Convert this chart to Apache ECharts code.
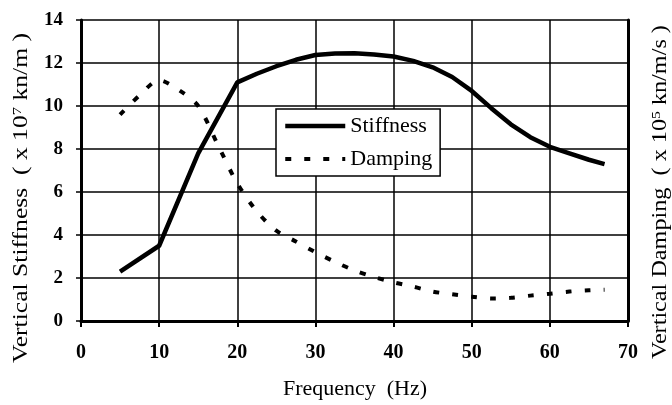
<!DOCTYPE html>
<html>
<head>
<meta charset="utf-8">
<script src="https://cdn.jsdelivr.net/npm/echarts@6/dist/echarts.min.js"></script>
<style>
html,body{margin:0;padding:0;background:#fff;}
#chart{width:672px;height:405px;}
</style>
</head>
<body>
<div id="chart"></div>
<script>
// Frequency (Hz) values and series
var stiffFreq   = [5, 10, 15, 20, 22.5, 25, 27.5, 30, 32.5, 35, 37.5, 40, 42.5, 45, 47.5, 50, 52.5, 55, 57.5, 60, 62.5, 65, 67];
var stiffValues = [2.3, 3.5, 7.8, 11.1, 11.5, 11.85, 12.15, 12.37, 12.44, 12.45, 12.4, 12.3, 12.1, 11.8, 11.35, 10.7, 9.9, 9.15, 8.55, 8.1, 7.8, 7.5, 7.3];
var dampFreq    = [5, 7.5, 10, 12.5, 15, 17.5, 20, 22.5, 25, 27.5, 30, 32.5, 35, 37.5, 40, 42.5, 45, 47.5, 50, 52.5, 55, 57.5, 60, 62.5, 65, 67];
var dampValues  = [9.6, 10.5, 11.2, 10.75, 10.0, 8.2, 6.4, 5.1, 4.2, 3.7, 3.2, 2.75, 2.35, 2.05, 1.8, 1.6, 1.37, 1.24, 1.13, 1.05, 1.08, 1.18, 1.27, 1.37, 1.43, 1.45];
var xTicks = [0, 10, 20, 30, 40, 50, 60, 70];
var yTicks = [0, 2, 4, 6, 8, 10, 12, 14];

function pairs(xs, ys) { return xs.map(function (x, i) { return [x, ys[i]]; }); }

var serif = 'Liberation Serif';
var supRich = {s: {fontFamily: serif, fontSize: 13, fill: '#000', padding: [0, 0, 9, 0]}};
var chart = echarts.init(document.getElementById('chart'), null, {renderer: 'canvas'});
chart.setOption({
  backgroundColor: '#fff',
  animation: false,
  grid: {left: 81, right: 44, top: 20, bottom: 84, containLabel: false},
  xAxis: {
    type: 'value', min: xTicks[0], max: xTicks[xTicks.length - 1], interval: 10,
    axisLine: {show: true, onZero: false, lineStyle: {color: '#000', width: 3}},
    axisTick: {show: true, length: 6, lineStyle: {color: '#000', width: 2}},
    axisLabel: {fontFamily: serif, fontSize: 20, fontWeight: 'bold', color: '#000', margin: 22},
    splitLine: {show: true, lineStyle: {color: '#000', width: 1.5}}
  },
  yAxis: [{
    type: 'value', min: yTicks[0], max: yTicks[yTicks.length - 1], interval: 2,
    axisLine: {show: true, lineStyle: {color: '#000', width: 3}},
    axisTick: {show: true, length: 5, lineStyle: {color: '#000', width: 1.5}},
    axisLabel: {fontFamily: serif, fontSize: 19, fontWeight: 'bold', color: '#000', margin: 18},
    splitLine: {show: true, lineStyle: {color: '#000', width: 1.5}}
  }, {
    type: 'value', min: yTicks[0], max: yTicks[yTicks.length - 1], interval: 2, position: 'right',
    axisLine: {show: true, lineStyle: {color: '#000', width: 3}},
    axisTick: {show: false},
    axisLabel: {show: false},
    splitLine: {show: false}
  }],
  legend: {
    orient: 'vertical', left: 276, top: 109,
    padding: [6, 8, 6, 7], itemGap: 11, itemWidth: 60, itemHeight: 21,
    backgroundColor: '#fff', borderColor: '#000', borderWidth: 1.5, borderRadius: 0,
    itemStyle: {opacity: 0},
    textStyle: {fontFamily: serif, fontSize: 22, color: '#000'},
    data: [
      {name: 'Stiffness', lineStyle: {color: '#000', width: 4.5, type: 'solid'}},
      {name: 'Damping', lineStyle: {color: '#000', width: 4, type: [6, 13]}}
    ]
  },
  graphic: [{
    type: 'text', x: 22, y: 198, rotation: Math.PI / 2, scaleX: 1.28,
    style: {
      text: 'Vertical Stiffness  ( x 10{s|7} kn/m )',
      rich: supRich,
      fontFamily: serif, fontSize: 20, fill: '#000', align: 'center', verticalAlign: 'middle'
    }
  }, {
    type: 'text', x: 661, y: 192, rotation: Math.PI / 2, scaleX: 1.21,
    style: {
      text: 'Vertical Damping  ( x 10{s|5} kn/m/s )',
      rich: supRich,
      fontFamily: serif, fontSize: 20, fill: '#000', align: 'center', verticalAlign: 'middle'
    }
  }, {
    type: 'text', x: 355, y: 390, scaleX: 1.1,
    style: {
      text: 'Frequency  (Hz)',
      fontFamily: serif, fontSize: 20, fill: '#000', align: 'center', verticalAlign: 'middle'
    }
  }],
  series: [{
    name: 'Stiffness', type: 'line', yAxisIndex: 0,
    data: pairs(stiffFreq, stiffValues),
    showSymbol: false, symbol: 'none', smooth: false,
    lineStyle: {color: '#000', width: 4.5}, itemStyle: {color: '#000'}
  }, {
    name: 'Damping', type: 'line', yAxisIndex: 1,
    data: pairs(dampFreq, dampValues),
    showSymbol: false, symbol: 'none', smooth: 0.3,
    lineStyle: {color: '#000', width: 4, type: [6, 13]}, itemStyle: {color: '#000'}
  }]
});
</script>
</body>
</html>
